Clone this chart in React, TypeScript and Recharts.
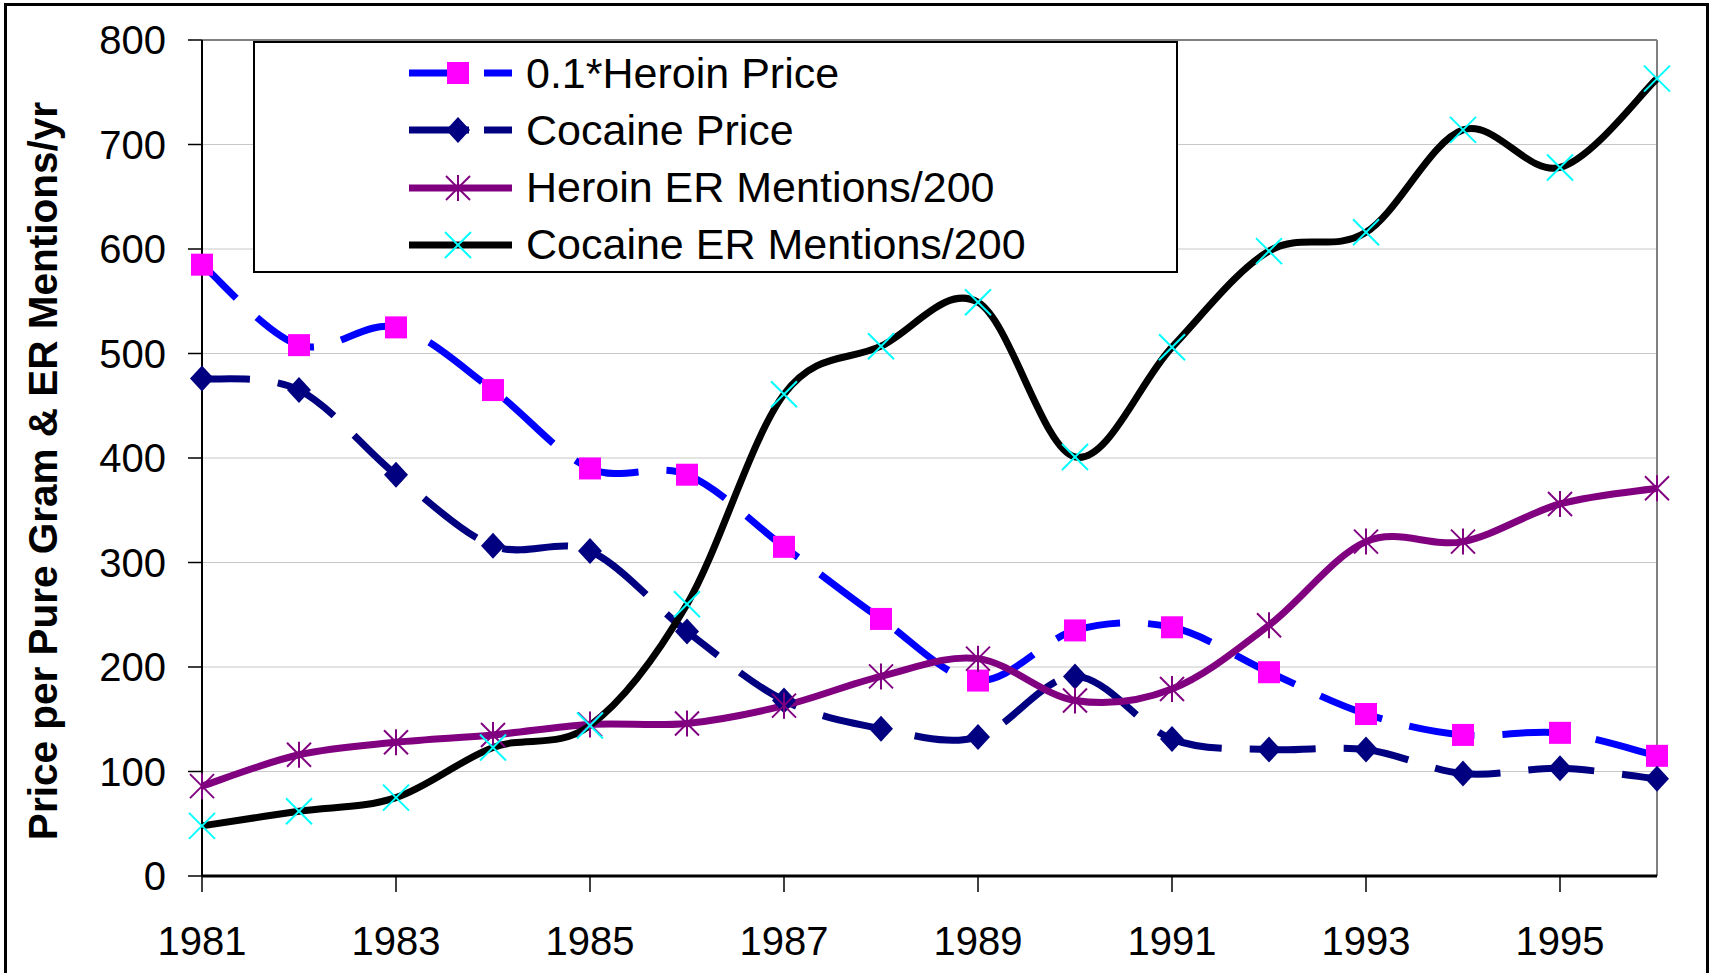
import React from 'react';
import {
  LineChart,
  Line,
  XAxis,
  YAxis,
  CartesianGrid,
  Legend,
  ReferenceLine,
  Label,
} from 'recharts';

// ---------------------------------------------------------------------------
// Data
// ---------------------------------------------------------------------------
const years = [1981, 1982, 1983, 1984, 1985, 1986, 1987, 1988, 1989, 1990, 1991, 1992, 1993, 1994, 1995, 1996];
const heroinPrice = [585, 508, 525, 465, 390, 384, 315, 246, 187, 235, 238, 195, 155, 135, 137, 115];
const cocainePrice = [476, 465, 384, 316, 311, 234, 168, 141, 133, 191, 131, 121, 121, 98, 103, 93];
const heroinER = [86, 116, 128, 135, 145, 146, 163, 191, 208, 168, 179, 240, 320, 320, 356, 371];
const cocaineER = [48, 62, 75, 123, 144, 260, 461, 507, 549, 401, 506, 598, 616, 714, 678, 763];

const xTicks = [1981, 1983, 1985, 1987, 1989, 1991, 1993, 1995];
const yTicks = [0, 100, 200, 300, 400, 500, 600, 700, 800];

const legendNames = ['0.1*Heroin Price', 'Cocaine Price', 'Heroin ER Mentions/200', 'Cocaine ER Mentions/200'];

const data = years.map((year, i) => ({
  year,
  heroinPrice: heroinPrice[i],
  cocainePrice: cocainePrice[i],
  heroinER: heroinER[i],
  cocaineER: cocaineER[i],
}));

const FONT = '"Liberation Sans", Arial, sans-serif';

// Excel-style smoothed line (Catmull-Rom through every point)
const excelCurve = (context: any) => {
  let pts: [number, number][] = [];
  return {
    areaStart() {},
    areaEnd() {},
    lineStart() {
      pts = [];
    },
    lineEnd() {
      if (!pts.length) return;
      context.moveTo(pts[0][0], pts[0][1]);
      for (let i = 0; i < pts.length - 1; i++) {
        const p0 = pts[Math.max(i - 1, 0)];
        const p1 = pts[i];
        const p2 = pts[i + 1];
        const p3 = pts[Math.min(i + 2, pts.length - 1)];
        context.bezierCurveTo(
          p1[0] + (p2[0] - p0[0]) / 6,
          p1[1] + (p2[1] - p0[1]) / 6,
          p2[0] - (p3[0] - p1[0]) / 6,
          p2[1] - (p3[1] - p1[1]) / 6,
          p2[0],
          p2[1],
        );
      }
    },
    point(x: number, y: number) {
      pts.push([+x, +y]);
    },
  };
};

// ---------------------------------------------------------------------------
// Markers
// ---------------------------------------------------------------------------
const Square = ({ cx, cy }: { cx: number; cy: number }) => (
  <rect x={cx - 11} y={cy - 11} width={22} height={22} fill="#FF00FF" />
);
const Diamond = ({ cx, cy }: { cx: number; cy: number }) => (
  <polygon points={`${cx},${cy - 13} ${cx + 12},${cy} ${cx},${cy + 13} ${cx - 12},${cy}`} fill="#000080" />
);
const Star = ({ cx, cy }: { cx: number; cy: number }) => (
  <g stroke="#800080" strokeWidth={2}>
    <line x1={cx} y1={cy - 13} x2={cx} y2={cy + 13} />
    <line x1={cx - 12} y1={cy - 12} x2={cx + 12} y2={cy + 12} />
    <line x1={cx - 12} y1={cy + 12} x2={cx + 12} y2={cy - 12} />
  </g>
);
const Cross = ({ cx, cy }: { cx: number; cy: number }) => (
  <g stroke="#00FFFF" strokeWidth={2}>
    <line x1={cx - 13} y1={cy - 13} x2={cx + 13} y2={cy + 13} />
    <line x1={cx - 13} y1={cy + 13} x2={cx + 13} y2={cy - 13} />
  </g>
);

const dotFn = (Comp: any, tag: string) => (p: any) => <Comp key={`${tag}-${p.index}`} cx={p.cx} cy={p.cy} />;

// ---------------------------------------------------------------------------
// Legend
// ---------------------------------------------------------------------------
const legendIcons = [
  <g key="a">
    <line x1={154} y1={29} x2={214} y2={29} stroke="#0000FF" strokeWidth={7} />
    <line x1={229} y1={29} x2={257} y2={29} stroke="#0000FF" strokeWidth={7} />
    <Square cx={203} cy={29} />
  </g>,
  <g key="b">
    <line x1={154} y1={29} x2={214} y2={29} stroke="#000080" strokeWidth={7} />
    <line x1={229} y1={29} x2={257} y2={29} stroke="#000080" strokeWidth={7} />
    <Diamond cx={203} cy={29} />
  </g>,
  <g key="c">
    <line x1={154} y1={29} x2={257} y2={29} stroke="#800080" strokeWidth={7} />
    <Star cx={203} cy={29} />
  </g>,
  <g key="d">
    <line x1={154} y1={29} x2={257} y2={29} stroke="#000000" strokeWidth={7} />
    <Cross cx={203} cy={29} />
  </g>,
];

const renderLegend = () => (
  <div
    style={{
      width: 925,
      height: 232,
      boxSizing: 'border-box',
      border: '2px solid #000',
      background: '#fff',
      position: 'relative',
      fontFamily: FONT,
    }}
  >
    {legendNames.map((name, i) => (
      <div
        key={name}
        style={{ position: 'absolute', left: 0, top: 1 + i * 57.3, height: 58, display: 'flex', alignItems: 'center' }}
      >
        <svg width={260} height={58} style={{ display: 'block' }}>
          {legendIcons[i]}
        </svg>
        <span style={{ fontSize: 43, marginLeft: 11, color: '#000', whiteSpace: 'nowrap' }}>{name}</span>
      </div>
    ))}
  </div>
);

// ---------------------------------------------------------------------------
// Component
// ---------------------------------------------------------------------------
export default function App() {
  return (
    <div style={{ position: 'absolute', left: 0, top: 0, width: 1709, height: 973, overflow: 'hidden', background: '#fff' }}>
      <LineChart width={1709} height={973} data={data} margin={{ top: 40, right: 52, left: 0, bottom: 0 }}>
        <CartesianGrid vertical={false} stroke="#c8c8c8" strokeWidth={1} />
        <XAxis
          dataKey="year"
          type="number"
          domain={[1981, 1996]}
          ticks={xTicks}
          interval={0}
          height={97}
          tickSize={16}
          tickMargin={35}
          tick={{ fontSize: 40, fill: '#000', fontFamily: FONT }}
          axisLine={{ stroke: '#000', strokeWidth: 3 }}
          tickLine={{ stroke: '#000', strokeWidth: 1.5 }}
        />
        <YAxis
          domain={[0, 800]}
          ticks={yTicks}
          interval={0}
          width={202}
          tickSize={14}
          tickMargin={22}
          tick={{ fontSize: 40, fill: '#000', fontFamily: FONT }}
          axisLine={{ stroke: '#000', strokeWidth: 2 }}
          tickLine={{ stroke: '#000', strokeWidth: 1.5 }}
        >
          <Label
            content={() => (
              <text
                x={57}
                y={471}
                transform="rotate(-90 57 471)"
                textAnchor="middle"
                fontFamily={FONT}
                fontWeight="bold"
                fontSize={40.5}
                fill="#000"
              >
                Price per Pure Gram &amp; ER Mentions/yr
              </text>
            )}
          />
        </YAxis>
        <ReferenceLine y={800} stroke="#808080" strokeWidth={2} />
        <ReferenceLine x={1996} stroke="#808080" strokeWidth={2} />
        <Legend
          layout="horizontal"
          verticalAlign="middle"
          align="center"
          content={renderLegend}
          wrapperStyle={{ left: 253, top: 41, width: 925, height: 232 }}
        />
        <Line
          dataKey="heroinPrice"
          type={excelCurve as any}
          stroke="#0000FF"
          strokeWidth={7}
          strokeDasharray="66 28"
          strokeDashoffset={18}
          dot={dotFn(Square, 'hp')}
          activeDot={false}
          isAnimationActive={false}
        />
        <Line
          dataKey="cocainePrice"
          type={excelCurve as any}
          stroke="#000080"
          strokeWidth={7}
          strokeDasharray="66 28"
          strokeDashoffset={18}
          dot={dotFn(Diamond, 'cp')}
          activeDot={false}
          isAnimationActive={false}
        />
        <Line
          dataKey="heroinER"
          type={excelCurve as any}
          stroke="#800080"
          strokeWidth={7}
          dot={dotFn(Star, 'he')}
          activeDot={false}
          isAnimationActive={false}
        />
        <Line
          dataKey="cocaineER"
          type={excelCurve as any}
          stroke="#000000"
          strokeWidth={7}
          dot={dotFn(Cross, 'ce')}
          activeDot={false}
          isAnimationActive={false}
        />
      </LineChart>
      <div
        style={{
          position: 'absolute',
          left: 4,
          top: 3,
          width: 1705,
          height: 1000,
          boxSizing: 'border-box',
          border: '3px solid #000',
          pointerEvents: 'none',
        }}
      />
    </div>
  );
}
